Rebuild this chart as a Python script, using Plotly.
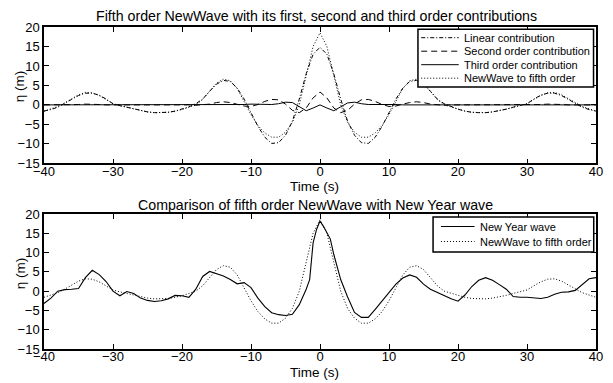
import plotly.graph_objects as go

# ---------------- data ----------------
t_top = list(range(-40, 41))

linear = [-1.6, -1.2, -0.6, 0.3, 1.4, 2.4, 3.0, 3.0, 2.5, 1.5,
          0.3, -0.2, -0.6, -1.1, -1.5, -1.8, -2.0, -2.0, -1.9, -1.6,
          -1.1, -0.5, 0.3, 1.5, 3.5, 5.3, 6.3, 6.0, 4.3, 1.5,
          -2.0, -5.5, -8.3, -9.9, -9.7, -7.8, -4.2, 1.5, 8.0, 13.0,
          14.8,
          13.0, 8.0, 1.5, -4.2, -7.8, -9.7, -9.9, -8.3, -5.5, -2.0,
          1.5, 4.3, 6.0, 6.3, 5.3, 3.5, 1.5, 0.3, -0.5, -1.1,
          -1.6, -1.9, -2.0, -2.0, -1.8, -1.5, -1.1, -0.6, -0.2, 0.3,
          1.5, 2.5, 3.0, 3.0, 2.4, 1.4, 0.3, -0.6, -1.2, -1.6]

second = [0.0, 0.0, 0.0, 0.0, 0.0, 0.1, 0.2, 0.2, 0.1, 0.0,
          0.0, 0.0, 0.0, 0.0, 0.0, 0.0, 0.1, 0.1, 0.0, 0.0,
          0.0, 0.0, -0.1, 0.0, 0.2, 0.6, 0.8, 0.6, 0.2, -0.3,
          -0.4, 0.1, 0.9, 1.4, 1.3, 0.2, -1.4, -2.0, -0.8, 1.8,
          3.3,
          1.8, -0.8, -2.0, -1.4, 0.2, 1.3, 1.4, 0.9, 0.1, -0.4,
          -0.3, 0.2, 0.6, 0.8, 0.6, 0.2, 0.0, -0.1, 0.0, 0.0,
          0.0, 0.1, 0.1, 0.0, 0.0, 0.0, 0.0, 0.0, 0.0, 0.0,
          0.0, 0.1, 0.2, 0.2, 0.1, 0.0, 0.0, 0.0, 0.0, 0.0]

third = [0.0, 0.0, 0.0, 0.0, 0.0, 0.0, 0.0, 0.0, 0.0, 0.0,
         0.0, 0.0, 0.0, 0.0, 0.0, 0.0, 0.0, 0.0, 0.0, 0.0,
         0.0, 0.0, 0.0, 0.0, 0.0, 0.0, 0.0, 0.0, 0.0, 0.1,
         0.2, 0.2, 0.1, 0.1, 0.3, 0.7, 0.6, -0.4, -1.5, -0.8,
         0.0,
         -0.8, -1.5, -0.5, 0.5, 0.7, 0.3, 0.1, 0.1, 0.1, 0.2,
         0.1, 0.0, 0.0, 0.0, 0.0, 0.0, 0.0, 0.0, 0.0, 0.0,
         0.0, 0.0, 0.0, 0.0, 0.0, 0.0, 0.0, 0.0, 0.0, 0.0,
         0.0, 0.0, 0.0, 0.0, 0.0, 0.0, 0.0, 0.0, 0.0, 0.0]

fifth = [-1.6, -1.0, -0.4, 0.5, 1.6, 2.6, 3.2, 3.1, 2.4, 1.4,
         0.3, -0.2, -0.6, -1.1, -1.5, -1.8, -2.0, -2.0, -1.9, -1.6,
         -1.2, -0.6, 0.0, 1.4, 3.5, 5.6, 6.6, 6.2, 4.2, 1.0,
         -2.5, -5.3, -7.2, -8.3, -8.3, -7.0, -4.5, 0.0, 7.5, 15.0,
         18.5,
         15.0, 7.5, 0.0, -4.5, -7.0, -8.3, -8.3, -7.2, -5.3, -2.5,
         1.0, 4.2, 6.2, 6.6, 5.6, 3.5, 1.4, 0.0, -0.6, -1.2,
         -1.6, -1.9, -2.0, -2.0, -1.8, -1.5, -1.1, -0.6, -0.2, 0.3,
         1.4, 2.4, 3.1, 3.2, 2.6, 1.6, 0.5, -0.4, -1.0, -1.6]

t_ny = [-40, -39, -38, -37, -36, -35, -34, -33, -32, -31,
        -30, -29, -28, -27, -26, -25, -24, -23, -22, -21,
        -20, -19, -18, -17, -16, -15, -14, -13, -12, -11,
        -10, -9, -8, -7, -6, -5, -4, -3, -2, -1.5,
        -1, -0.5, 0, 0.5, 1, 1.5, 2, 2.5, 3, 4,
        5, 6, 7, 8, 9, 10, 11, 12, 13, 14,
        15, 16, 17, 18, 19, 20, 21, 22, 23, 24,
        25, 26, 27, 28, 29, 30, 31, 32, 33, 34,
        35, 36, 37, 38, 39, 40]
new_year = [-3.2, -1.8, 0.0, 0.4, 0.5, 0.7, 3.5, 5.4, 4.3, 2.5,
            0.0, -1.2, -0.1, -0.6, -1.8, -2.4, -2.7, -2.5, -2.0, -1.1,
            -1.2, -1.6, 0.5, 3.8, 5.1, 4.5, 3.9, 3.0, 1.9, 2.2,
            0.9, -1.8, -4.0, -5.6, -6.1, -6.3, -6.0, -3.5, 0.5, 3.0,
            12.5, 16.0, 18.2, 16.8, 15.0, 13.5, 9.5, 6.0, 3.0, -1.5,
            -5.5, -6.8, -6.8, -4.7, -2.5, -0.2, 1.8, 3.4, 4.2, 3.6,
            1.8, 0.5, -0.4, -1.2, -2.0, -2.6, -1.0, 1.2, 2.8, 3.5,
            2.8, 1.7, 0.5, -1.4, -1.6, -1.6, -1.7, -1.9, -1.6, -0.8,
            -0.3, -0.2, 0.2, 1.8, 3.2, 3.5]

x_ticks = [-40, -30, -20, -10, 0, 10, 20, 30, 40]
y_ticks = [-15, -10, -5, 0, 5, 10, 15, 20]

top_title = "Fifth order NewWave with its first, second and third order contributions"
bottom_title = "Comparison of fifth order NewWave with New Year wave"
x_label = "Time (s)"
y_label = "η (m)"
top_names = ["Linear contribution", "Second order contribution",
             "Third order contribution", "NewWave to fifth order"]
bottom_names = ["New Year wave", "NewWave to fifth order"]

# ---------------- styling ----------------
W, H = 613, 383
ML, MR, MT, MB = 44, 10, 27, 34
PW, PH = W - ML - MR, H - MT - MB
FONT = "Liberation Sans, Arial, Helvetica, sans-serif"

DASHDOT = "4px,2px,1px,2px"
DASH = "6px,4px"
DOT = "1px,2px"
styles_top = [DASHDOT, DASH, "solid", DOT]


def px(x):
    return (x - ML) / PW


def py(y):
    return (H - MB - y) / PH


fig = go.Figure()
for name, ys, dsh in zip(top_names, [linear, second, third, fifth], styles_top):
    fig.add_trace(go.Scatter(x=t_top, y=ys, mode="lines", name=name,
                             line=dict(color="black", width=1, dash=dsh),
                             xaxis="x", yaxis="y", showlegend=False))
fig.add_trace(go.Scatter(x=t_ny, y=new_year, mode="lines", name=bottom_names[0],
                         line=dict(color="black", width=1.1),
                         xaxis="x2", yaxis="y2", showlegend=False))
fig.add_trace(go.Scatter(x=t_top, y=fifth, mode="lines", name=bottom_names[1],
                         line=dict(color="black", width=1, dash=DOT),
                         xaxis="x2", yaxis="y2", showlegend=False))

axis_common = dict(showline=True, linecolor="black", linewidth=1.5, mirror="ticks",
                   ticks="inside", ticklen=5, tickwidth=1, tickcolor="black",
                   showgrid=False, zeroline=False,
                   tickfont=dict(family=FONT, size=13, color="black"))

top_dom = [py(163.3), 1.0]
bot_dom = [0.0, py(214)]

xa = dict(range=[-40, 40], tickvals=x_ticks, domain=[0, 1], ticklabelstandoff=-5, **axis_common)
fig.update_layout(
    width=W, height=H, margin=dict(l=ML, r=MR, t=MT, b=MB),
    paper_bgcolor="white", plot_bgcolor="white",
    font=dict(family=FONT, color="black"),
    xaxis=dict(anchor="y", **xa),
    yaxis=dict(domain=top_dom, range=[-15, 20], tickvals=y_ticks, anchor="x", **axis_common),
    xaxis2=dict(anchor="y2", **xa),
    yaxis2=dict(domain=bot_dom, range=[-15, 20], tickvals=y_ticks, anchor="x2", **axis_common),
    showlegend=False,
)

ann = []
shapes = []
# titles
ann.append(dict(text=top_title, x=px(320), y=py(16), xref="paper", yref="paper",
                showarrow=False, font=dict(size=14.2, family=FONT), xanchor="center", yanchor="middle"))
ann.append(dict(text=bottom_title, x=px(319), y=py(205), xref="paper", yref="paper",
                showarrow=False, font=dict(size=14.2, family=FONT), xanchor="center", yanchor="middle"))
# axis labels
for yc in (186, 372):
    ann.append(dict(text=x_label, x=px(318), y=py(yc), xref="paper", yref="paper",
                    showarrow=False, font=dict(size=13.5, family=FONT), xanchor="center", yanchor="middle"))
for yc in (86, 273):
    ann.append(dict(text=y_label, x=px(20), y=py(yc), xref="paper", yref="paper", textangle=-90,
                    showarrow=False, font=dict(size=13.5, family=FONT), xanchor="center", yanchor="middle"))

# top legend
shapes.append(dict(type="rect", xref="paper", yref="paper", x0=px(422.7), x1=px(600.5),
                   y0=py(87), y1=py(29.3), line=dict(color="black", width=1.5), fillcolor="white",
                   layer="above"))
rows_top = [37.7, 51.2, 64.7, 78.2]
for name, dsh, r in zip(top_names, styles_top, rows_top):
    shapes.append(dict(type="line", xref="paper", yref="paper", x0=px(426), x1=px(464),
                       y0=py(r), y1=py(r), line=dict(color="black", width=1, dash=dsh), layer="above"))
    ann.append(dict(text=name, x=px(467), y=py(r), xref="paper", yref="paper", showarrow=False,
                    xanchor="left", yanchor="middle", font=dict(size=11, family=FONT)))

# bottom legend
shapes.append(dict(type="rect", xref="paper", yref="paper", x0=px(438), x1=px(600.7),
                   y0=py(252), y1=py(217), line=dict(color="black", width=1.5), fillcolor="white",
                   layer="above"))
rows_bot = [226.5, 241.5]
for name, dsh, r in zip(bottom_names, ["solid", DOT], rows_bot):
    shapes.append(dict(type="line", xref="paper", yref="paper", x0=px(446), x1=px(480),
                       y0=py(r), y1=py(r), line=dict(color="black", width=1, dash=dsh), layer="above"))
    ann.append(dict(text=name, x=px(483), y=py(r), xref="paper", yref="paper", showarrow=False,
                    xanchor="left", yanchor="middle", font=dict(size=11, family=FONT)))

fig.update_layout(annotations=ann, shapes=shapes)
fig.write_html("out.html")
